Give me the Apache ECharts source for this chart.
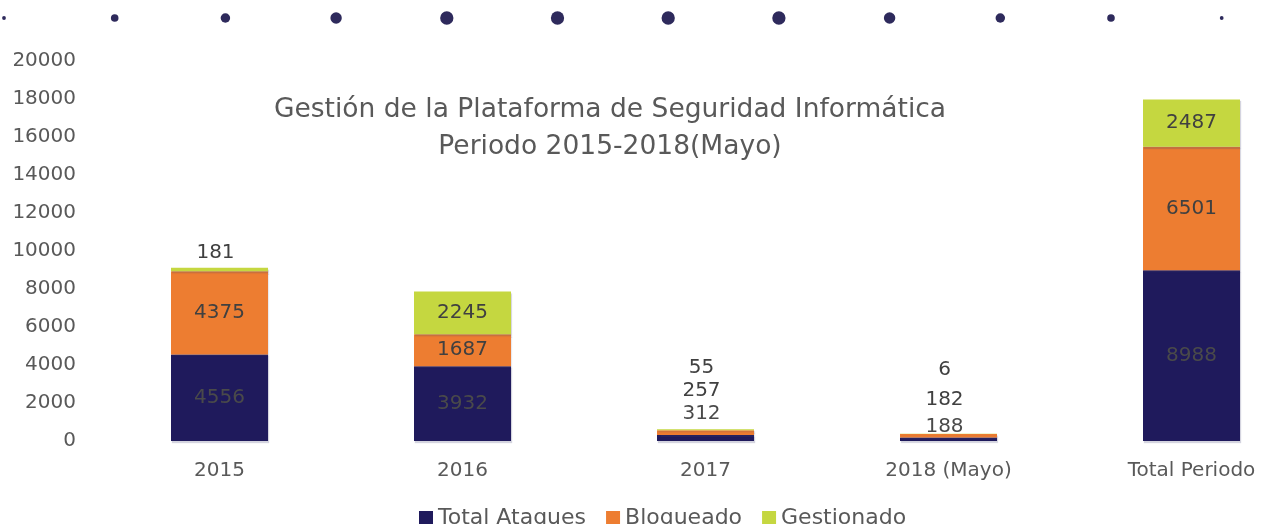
<!DOCTYPE html>
<html>
<head>
<meta charset="utf-8">
<script src="https://cdn.jsdelivr.net/npm/echarts@6/dist/echarts.min.js"></script>
<style>
  html, body { margin: 0; padding: 0; background: #ffffff; }
  #chart { width: 1269px; height: 524px; }
</style>
</head>
<body>
<div id="chart"></div>
<script>
// Categories and stacked series values
const categories = ['2015', '2016', '2017', '2018 (Mayo)', 'Total Periodo'];
const totalAtaques = [4556, 3932, 312, 188, 8988];
const bloqueado = [4375, 1687, 257, 182, 6501];
const gestionado = [181, 2245, 55, 6, 2487];
const seriesNames = ['Total Ataques', 'Bloqueado', 'Gestionado'];
const yTicks = [0, 2000, 4000, 6000, 8000, 10000, 12000, 14000, 16000, 18000, 20000];

const FONT = 'DejaVu Sans';
const TEXT = '#595959';
const colors = ['#1f1a5c', '#ed7d31', '#c5d740'];

// Small segments get their labels pushed above the bar so they stay legible
function labelFor(seriesIdx, catIdx, value) {
  if (value > 1000) return { position: 'inside' };
  const offsets = {
    '0-2': -6, '1-2': -24, '2-2': -46,
    '0-3': 4, '1-3': -19, '2-3': -49,
    '2-0': 0
  };
  const dy = offsets[seriesIdx + '-' + catIdx] || 0;
  return { position: 'top', distance: 5, offset: [-4, dy] };
}

function buildData(values, sIdx) {
  return values.map((v, i) => ({ value: v, label: labelFor(sIdx, i, v) }));
}

const allSeries = [totalAtaques, bloqueado, gestionado].map((vals, sIdx) => ({
  name: seriesNames[sIdx],
  type: 'bar',
  stack: 'total',
  barWidth: 97,
  itemStyle: {
    color: colors[sIdx],
    shadowColor: 'rgba(60, 60, 110, 0.22)',
    shadowOffsetX: 1,
    shadowOffsetY: 2,
    shadowBlur: 1
  },
  label: {
    show: true,
    color: sIdx === 0 ? '#4a4a4a' : '#404040',
    fontFamily: FONT,
    fontSize: 20
  },
  data: buildData(vals, sIdx)
}));

// Decorative row of dots along the top edge
const dotRadii = [2, 4, 5, 6, 7, 7, 7, 7, 6, 5, 4, 2];
const dots = dotRadii.map((r, i) => ({
  type: 'circle',
  shape: { cx: 4 + i * 110.7, cy: 18, r: r * 0.95 },
  style: { fill: '#2e2a5c' },
  silent: true
}));

const chart = echarts.init(document.getElementById('chart'), null, { renderer: 'canvas' });
chart.setOption({
  animation: false,
  backgroundColor: '#ffffff',
  title: {
    text: 'Gestión de la Plataforma de Seguridad Informática\nPeriodo 2015-2018(Mayo)',
    left: 605,
    top: 87,
    textAlign: 'center',
    textStyle: {
      fontFamily: FONT,
      fontSize: 26.5,
      fontWeight: 'normal',
      color: TEXT,
      lineHeight: 37
    }
  },
  legend: {
    data: seriesNames,
    left: 414,
    top: 502,
    itemWidth: 14,
    itemHeight: 14,
    itemGap: 20,
    icon: 'rect',
    textStyle: { fontFamily: FONT, fontSize: 22, color: TEXT }
  },
  grid: { left: 98, top: 61, width: 1215, height: 380, outerBoundsMode: 'none', containLabel: false },
  xAxis: {
    type: 'category',
    data: categories,
    axisLine: { show: false },
    axisTick: { show: false },
    axisLabel: { fontFamily: FONT, fontSize: 20, color: TEXT, margin: 20 }
  },
  yAxis: {
    type: 'value',
    min: yTicks[0],
    max: yTicks[yTicks.length - 1],
    interval: yTicks[1] - yTicks[0],
    axisLine: { show: false },
    axisTick: { show: false },
    splitLine: { show: false },
    axisLabel: {
      fontFamily: FONT, fontSize: 20, color: TEXT, margin: 22,
      formatter: (v) => String(v)
    }
  },
  graphic: dots,
  series: allSeries
});
</script>
</body>
</html>
